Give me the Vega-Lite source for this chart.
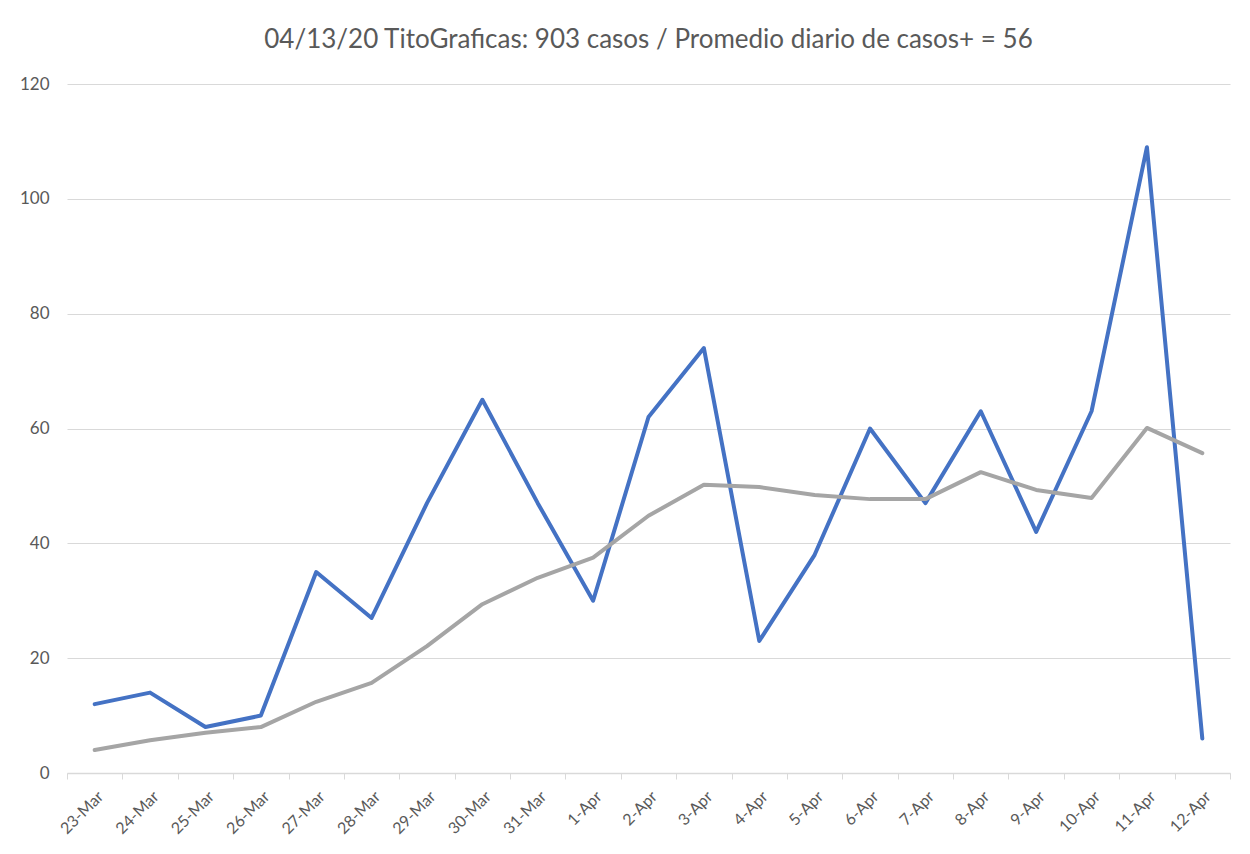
{
  "$schema": "https://vega.github.io/schema/vega-lite/v6.json",
  "width": 1163,
  "height": 689,
  "autosize": {"type": "none"},
  "padding": {"left": 67, "top": 84, "right": 20, "bottom": 81},
  "background": "white",
  "title": {
    "text": "04/13/20 TitoGraficas: 903 casos / Promedio diario de casos+ = 56",
    "font": "Lato",
    "fontSize": 26,
    "fontWeight": "normal",
    "color": "#595959",
    "anchor": "middle",
    "offset": 22
  },
  "data": {
    "values": [
      {"fecha": "23-Mar", "casos": 12, "promedio": 4.0},
      {"fecha": "24-Mar", "casos": 14, "promedio": 5.7},
      {"fecha": "25-Mar", "casos": 8, "promedio": 7.0},
      {"fecha": "26-Mar", "casos": 10, "promedio": 8.0},
      {"fecha": "27-Mar", "casos": 35, "promedio": 12.4},
      {"fecha": "28-Mar", "casos": 27, "promedio": 15.7},
      {"fecha": "29-Mar", "casos": 47, "promedio": 22.1},
      {"fecha": "30-Mar", "casos": 65, "promedio": 29.4},
      {"fecha": "31-Mar", "casos": 47, "promedio": 34.0},
      {"fecha": "1-Apr", "casos": 30, "promedio": 37.5},
      {"fecha": "2-Apr", "casos": 62, "promedio": 44.8},
      {"fecha": "3-Apr", "casos": 74, "promedio": 50.2},
      {"fecha": "4-Apr", "casos": 23, "promedio": 49.8},
      {"fecha": "5-Apr", "casos": 38, "promedio": 48.4},
      {"fecha": "6-Apr", "casos": 60, "promedio": 47.7},
      {"fecha": "7-Apr", "casos": 47, "promedio": 47.7},
      {"fecha": "8-Apr", "casos": 63, "promedio": 52.4},
      {"fecha": "9-Apr", "casos": 42, "promedio": 49.3},
      {"fecha": "10-Apr", "casos": 63, "promedio": 47.9},
      {"fecha": "11-Apr", "casos": 109, "promedio": 60.1},
      {"fecha": "12-Apr", "casos": 6, "promedio": 55.7}
    ]
  },
  "encoding": {
    "x": {
      "field": "fecha",
      "type": "ordinal",
      "sort": null,
      "scale": {"type": "band", "paddingInner": 0, "paddingOuter": 0},
      "axis": {
        "title": null,
        "labelAngle": -45,
        "labelFont": "Lato",
        "labelFontSize": 16,
        "labelColor": "#595959",
        "labelAlign": "right",
        "labelBaseline": "top",
        "labelPadding": 9,
        "tickBand": "extent",
        "tickColor": "#D9D9D9",
        "tickSize": 6,
        "domainColor": "#D9D9D9",
        "domainWidth": 1.5,
        "grid": false
      }
    }
  },
  "layer": [
    {
      "mark": {"type": "line", "color": "#4472C4", "strokeWidth": 4, "strokeCap": "round", "strokeJoin": "round"},
      "encoding": {
        "y": {
          "field": "casos",
          "type": "quantitative",
          "scale": {"domain": [0, 120]},
          "axis": {
            "title": null,
            "values": [0, 20, 40, 60, 80, 100, 120],
            "labelFont": "Lato",
            "labelFontSize": 17,
            "labelColor": "#595959",
            "labelPadding": 18,
            "domain": false,
            "ticks": false,
            "gridColor": "#D9D9D9",
            "gridWidth": 1.2
          }
        }
      }
    },
    {
      "mark": {"type": "line", "color": "#A5A5A5", "strokeWidth": 4, "strokeCap": "round", "strokeJoin": "round"},
      "encoding": {
        "y": {"field": "promedio", "type": "quantitative"}
      }
    }
  ],
  "config": {"view": {"stroke": null}}
}
